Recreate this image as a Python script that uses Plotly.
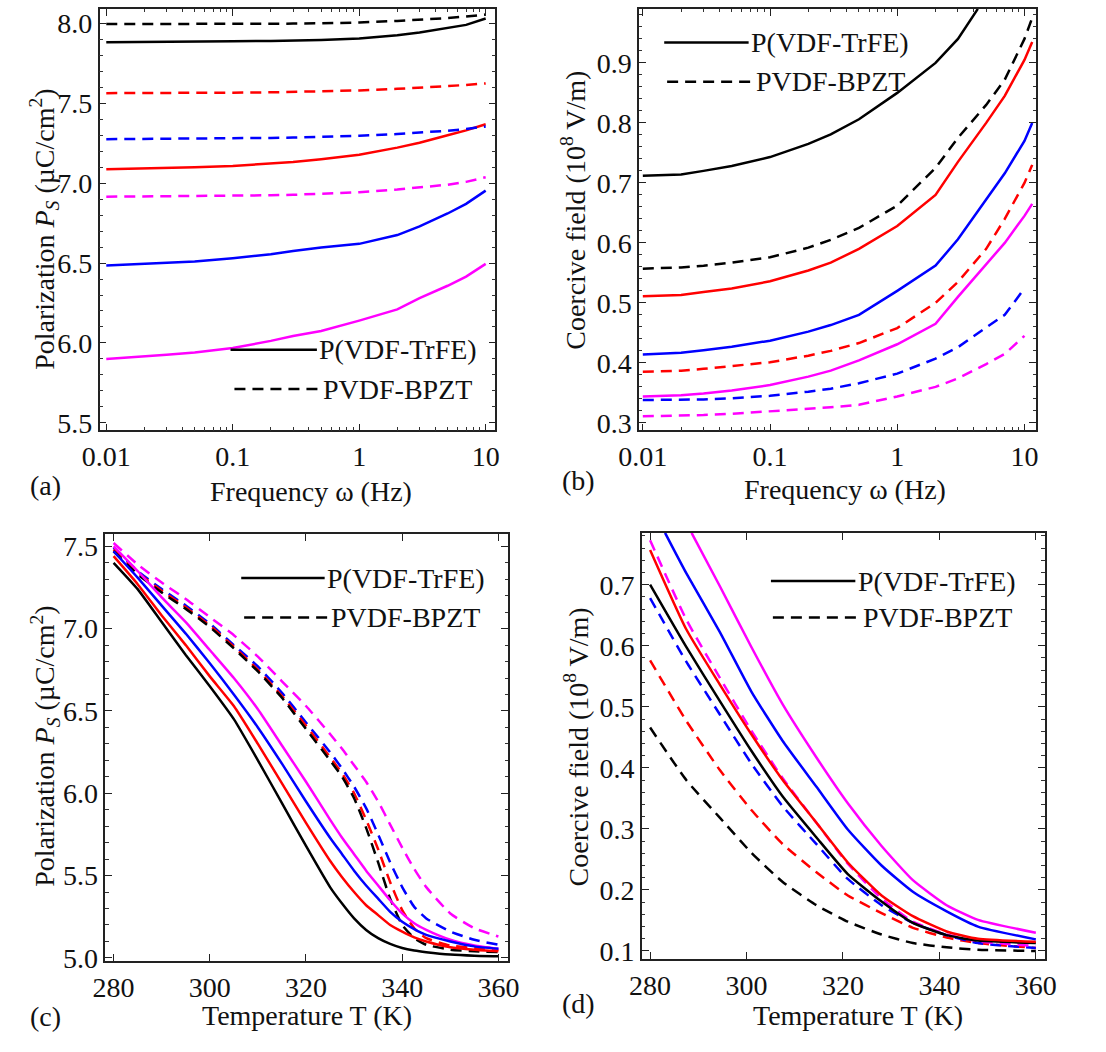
import plotly.graph_objects as go

# ---------------- data ----------------
# (a) saturation polarization vs frequency
freq_a = [0.01, 0.02, 0.03, 0.05, 0.1, 0.2, 0.3, 0.5, 1, 2, 3, 5, 7, 10]
pa_trfe_black = [7.881, 7.884, 7.886, 7.887, 7.888, 7.889, 7.891, 7.896, 7.905, 7.925, 7.943, 7.97, 7.99, 8.03]
pa_bpzt_black = [7.995, 7.995, 7.995, 7.995, 7.996, 7.997, 7.998, 8.0, 8.005, 8.015, 8.022, 8.033, 8.042, 8.055]
pa_trfe_red = [7.087, 7.091, 7.096, 7.100, 7.107, 7.121, 7.132, 7.150, 7.178, 7.222, 7.253, 7.300, 7.330, 7.368]
pa_bpzt_red = [7.563, 7.563, 7.564, 7.565, 7.566, 7.568, 7.570, 7.574, 7.58, 7.59, 7.597, 7.607, 7.614, 7.624]
pa_trfe_blue = [6.485, 6.495, 6.50, 6.51, 6.53, 6.555, 6.575, 6.597, 6.62, 6.675, 6.73, 6.81, 6.87, 6.953]
pa_bpzt_blue = [7.275, 7.276, 7.277, 7.278, 7.28, 7.283, 7.285, 7.289, 7.296, 7.307, 7.315, 7.328, 7.338, 7.355]
pa_trfe_magenta = [5.90, 5.915, 5.927, 5.941, 5.968, 6.013, 6.044, 6.075, 6.14, 6.21, 6.28, 6.358, 6.415, 6.495]
pa_bpzt_magenta = [6.915, 6.916, 6.917, 6.918, 6.92, 6.924, 6.927, 6.933, 6.943, 6.96, 6.972, 6.99, 7.008, 7.037]

# (b) coercive field vs frequency
freq_b = [0.01, 0.02, 0.03, 0.05, 0.1, 0.2, 0.3, 0.5, 1, 2, 3, 5, 7, 10, 11.5]
freq_b_short = [0.01, 0.02, 0.03, 0.05, 0.1, 0.2, 0.3, 0.5, 1, 2, 3, 5, 7, 10]
freq_b_black = [0.01, 0.02, 0.03, 0.05, 0.1, 0.2, 0.3, 0.5, 1, 2, 3, 4.3]
eb_trfe_black = [0.712, 0.714, 0.72, 0.728, 0.743, 0.765, 0.781, 0.806, 0.85, 0.9, 0.94, 0.99]
eb_bpzt_black = [0.557, 0.559, 0.562, 0.567, 0.576, 0.592, 0.605, 0.625, 0.662, 0.725, 0.775, 0.83, 0.872, 0.94, 0.975]
eb_trfe_red = [0.511, 0.513, 0.518, 0.524, 0.536, 0.554, 0.567, 0.59, 0.628, 0.68, 0.735, 0.80, 0.845, 0.905, 0.935]
eb_bpzt_red = [0.385, 0.387, 0.39, 0.395, 0.401, 0.412, 0.42, 0.433, 0.458, 0.50, 0.535, 0.59, 0.64, 0.70, 0.73]
eb_trfe_blue = [0.414, 0.417, 0.421, 0.427, 0.437, 0.452, 0.463, 0.48, 0.52, 0.562, 0.606, 0.672, 0.716, 0.77, 0.80]
eb_bpzt_blue = [0.338, 0.338, 0.339, 0.341, 0.345, 0.352, 0.357, 0.366, 0.382, 0.407, 0.426, 0.459, 0.48, 0.524]
eb_trfe_magenta = [0.344, 0.346, 0.349, 0.354, 0.363, 0.377, 0.387, 0.404, 0.431, 0.465, 0.51, 0.565, 0.60, 0.645, 0.665]
eb_bpzt_magenta = [0.311, 0.312, 0.313, 0.315, 0.319, 0.323, 0.326, 0.33, 0.344, 0.36, 0.374, 0.398, 0.415, 0.445]

# (c) saturation polarization vs temperature
temp_c = [280, 285, 290, 295, 300, 305, 310, 315, 320, 325, 327.5, 330, 332.5, 335,
          337.5, 340, 342.5, 345, 350, 355, 360]
pc_trfe_black = [7.40, 7.24, 7.04, 6.84, 6.65, 6.45, 6.20, 5.94, 5.68, 5.43, 5.33, 5.24, 5.17, 5.12,
                 5.085, 5.06, 5.045, 5.035, 5.02, 5.013, 5.01]
pc_trfe_red = [7.44, 7.27, 7.08, 6.90, 6.71, 6.53, 6.30, 6.06, 5.82, 5.59, 5.49, 5.40, 5.32, 5.26,
               5.20, 5.16, 5.125, 5.10, 5.065, 5.05, 5.04]
pc_trfe_blue = [7.47, 7.31, 7.14, 6.97, 6.79, 6.60, 6.40, 6.18, 5.95, 5.73, 5.63, 5.53, 5.44, 5.36,
                5.28, 5.22, 5.175, 5.14, 5.10, 5.07, 5.055]
pc_trfe_magenta = [7.50, 7.35, 7.19, 7.04, 6.87, 6.70, 6.51, 6.29, 6.07, 5.84, 5.73, 5.63, 5.53, 5.44,
                   5.35, 5.27, 5.21, 5.17, 5.11, 5.075, 5.055]
pc_bpzt_black = [7.47, 7.33, 7.22, 7.12, 7.01, 6.88, 6.74, 6.58, 6.39, 6.20, 6.10, 5.97, 5.79, 5.58,
                 5.36, 5.20, 5.12, 5.08, 5.05, 5.04, 5.035]
pc_bpzt_red = [7.48, 7.34, 7.23, 7.13, 7.02, 6.89, 6.75, 6.59, 6.41, 6.22, 6.12, 6.00, 5.84, 5.66,
               5.46, 5.29, 5.18, 5.12, 5.075, 5.06, 5.05]
pc_bpzt_blue = [7.49, 7.35, 7.24, 7.14, 7.03, 6.90, 6.77, 6.61, 6.43, 6.25, 6.15, 6.04, 5.91, 5.75,
                5.58, 5.43, 5.31, 5.24, 5.16, 5.11, 5.08]
pc_bpzt_magenta = [7.52, 7.39, 7.28, 7.18, 7.07, 6.96, 6.83, 6.68, 6.53, 6.36, 6.27, 6.17, 6.07, 5.95,
                   5.81, 5.67, 5.54, 5.43, 5.27, 5.18, 5.13]

# (d) coercive field vs temperature
temp_d = [280, 287.5, 294.5, 301, 307.5, 314.5, 321, 328, 334.5, 341.5, 348, 360]
temp_d_blue = [283.1, 287.5, 294.5, 301, 307.5, 314.5, 321, 328, 334.5, 341.5, 348, 360]
temp_d_magenta = [288.6, 294.5, 301, 307.5, 314.5, 321, 328, 334.5, 341.5, 348, 360]
ed_trfe_black = [0.70, 0.598, 0.509, 0.428, 0.353, 0.286, 0.226, 0.181, 0.146, 0.126, 0.117, 0.113]
ed_trfe_red = [0.757, 0.627, 0.536, 0.455, 0.380, 0.310, 0.245, 0.191, 0.157, 0.132, 0.120, 0.115]
ed_trfe_blue = [0.785, 0.719, 0.622, 0.525, 0.444, 0.369, 0.299, 0.24, 0.197, 0.165, 0.14, 0.119]
ed_trfe_magenta = [0.785, 0.697, 0.598, 0.504, 0.417, 0.342, 0.272, 0.216, 0.175, 0.151, 0.130]
ed_bpzt_black = [0.466, 0.38, 0.318, 0.261, 0.213, 0.175, 0.148, 0.127, 0.113, 0.106, 0.102, 0.10]
ed_bpzt_red = [0.576, 0.477, 0.396, 0.331, 0.275, 0.229, 0.191, 0.162, 0.138, 0.122, 0.113, 0.105]
ed_bpzt_blue = [0.678, 0.574, 0.487, 0.407, 0.337, 0.275, 0.218, 0.175, 0.146, 0.126, 0.113, 0.105]
ed_bpzt_magenta = [0.773, 0.643, 0.547, 0.461, 0.383, 0.31, 0.243, 0.186, 0.148, 0.127, 0.116, 0.108]

legend_names = ["P(VDF-TrFE)", "PVDF-BPZT"]
freq_ticks = [0.01, 0.1, 1, 10]
freq_ticktext = ["0.01", "0.1", "1", "10"]

# ---------------- styling ----------------
W, H = 1106, 1052
FONT = "Liberation Serif"
BLACK, RED, BLUE, MAGENTA = "#000000", "#ff0000", "#0000ff", "#ff00ff"
LW = 2.5
DASH = "11px,7px"


def px(x):
    return x / W


def py(y):
    return 1 - y / H


fig = go.Figure()


def add(xs, ys, color, dashed, xa, ya, smooth=False):
    line = dict(color=color, width=LW, dash=DASH if dashed else "solid")
    if smooth:
        line.update(shape="spline", smoothing=0.5)
    fig.add_trace(go.Scatter(
        x=xs, y=ys, mode="lines", xaxis=xa, yaxis=ya, showlegend=False,
        line=line, hoverinfo="skip"))


# panel (a)
add(freq_a, pa_bpzt_black, BLACK, True, "x", "y")
add(freq_a, pa_trfe_black, BLACK, False, "x", "y")
add(freq_a, pa_bpzt_red, RED, True, "x", "y")
add(freq_a, pa_trfe_red, RED, False, "x", "y")
add(freq_a, pa_bpzt_blue, BLUE, True, "x", "y")
add(freq_a, pa_trfe_blue, BLUE, False, "x", "y")
add(freq_a, pa_bpzt_magenta, MAGENTA, True, "x", "y")
add(freq_a, pa_trfe_magenta, MAGENTA, False, "x", "y")

# panel (b)
add(freq_b_black, eb_trfe_black, BLACK, False, "x2", "y2")
add(freq_b, eb_bpzt_black, BLACK, True, "x2", "y2")
add(freq_b, eb_trfe_red, RED, False, "x2", "y2")
add(freq_b, eb_bpzt_red, RED, True, "x2", "y2")
add(freq_b, eb_trfe_blue, BLUE, False, "x2", "y2")
add(freq_b_short, eb_bpzt_blue, BLUE, True, "x2", "y2")
add(freq_b, eb_trfe_magenta, MAGENTA, False, "x2", "y2")
add(freq_b_short, eb_bpzt_magenta, MAGENTA, True, "x2", "y2")

# panel (c)
add(temp_c, pc_bpzt_magenta, MAGENTA, True, "x3", "y3", True)
add(temp_c, pc_bpzt_blue, BLUE, True, "x3", "y3", True)
add(temp_c, pc_bpzt_red, RED, True, "x3", "y3", True)
add(temp_c, pc_bpzt_black, BLACK, True, "x3", "y3", True)
add(temp_c, pc_trfe_magenta, MAGENTA, False, "x3", "y3", True)
add(temp_c, pc_trfe_blue, BLUE, False, "x3", "y3", True)
add(temp_c, pc_trfe_red, RED, False, "x3", "y3", True)
add(temp_c, pc_trfe_black, BLACK, False, "x3", "y3", True)

# panel (d)
add(temp_d, ed_bpzt_black, BLACK, True, "x4", "y4", True)
add(temp_d, ed_bpzt_red, RED, True, "x4", "y4", True)
add(temp_d, ed_bpzt_blue, BLUE, True, "x4", "y4", True)
add(temp_d, ed_bpzt_magenta, MAGENTA, True, "x4", "y4", True)
add(temp_d, ed_trfe_black, BLACK, False, "x4", "y4", True)
add(temp_d, ed_trfe_red, RED, False, "x4", "y4", True)
add(temp_d_blue, ed_trfe_blue, BLUE, False, "x4", "y4", True)
add(temp_d_magenta, ed_trfe_magenta, MAGENTA, False, "x4", "y4", True)

tickfont = dict(family=FONT, size=28, color="#111")


def axis(domain, rng, **kw):
    d = dict(domain=domain, range=rng, showline=True, linecolor="#222", linewidth=1.5,
             mirror="allticks", ticks="inside", ticklen=7, tickwidth=1.2, tickcolor="#222",
             showgrid=False, zeroline=False, tickfont=tickfont)
    d.update(kw)
    return d


def minor_lin(dt):
    return dict(ticks="inside", ticklen=3.5, tickwidth=1, tickcolor="#333", dtick=dt, showgrid=False)


minor_log = dict(ticks="inside", ticklen=3.5, tickwidth=1, tickcolor="#333", dtick="D1", showgrid=False)

fig.update_layout(
    width=W, height=H, margin=dict(l=0, r=0, t=0, b=0),
    paper_bgcolor="white", plot_bgcolor="white", showlegend=False,
    xaxis=axis([px(81), px(489)], [-2.053, 1.077], type="log", anchor="y",
               tickvals=freq_ticks, ticktext=freq_ticktext, minor=minor_log),
    yaxis=axis([py(434), py(6)], [5.453, 8.09], anchor="x", tick0=5.5, dtick=0.5,
               tickformat=".1f", minor=minor_lin(0.1)),
    xaxis2=axis([px(637), px(1046)], [-2.03, 1.089], type="log", anchor="y2",
                tickvals=freq_ticks, ticktext=freq_ticktext, minor=minor_log),
    yaxis2=axis([py(434), py(6)], [0.2874, 0.99], anchor="x2", tick0=0.3, dtick=0.1,
                tickformat=".1f", minor=minor_lin(0.02)),
    xaxis3=axis([px(87), px(502)], [278.3, 362], anchor="y3", tick0=280, dtick=20),
    yaxis3=axis([py(973), py(539)], [4.98, 7.576], anchor="x3", tick0=5.0, dtick=0.5,
                tickformat=".1f", minor=minor_lin(0.1)),
    xaxis4=axis([px(640), px(1055)], [278.3, 361.8], anchor="y4", tick0=280, dtick=20),
    yaxis4=axis([py(971), py(538)], [0.0865, 0.785], anchor="x4", tick0=0.1, dtick=0.1,
                tickformat=".1f", minor=minor_lin(0.02)),
)

annotations = []
shapes = []


def text(x, y, s, size=28, angle=0, xanchor="center"):
    annotations.append(dict(x=px(x), y=py(y), xref="paper", yref="paper", text=s,
                            showarrow=False, textangle=angle, xanchor=xanchor, yanchor="middle",
                            borderpad=0, font=dict(family=FONT, size=size, color="#111")))


# axis titles
ps_title = "Polarization <i>P</i><sub><i>S</i></sub> (µC/cm<sup>2</sup>)"
ec_title = "Coercive field (10<sup>8</sup> V/m)"
text(24, 230, ps_title, angle=-90)
text(570, 210, ec_title, angle=-90)
text(25, 755, ps_title, angle=-90)
text(573, 755, ec_title, angle=-90)
text(299, 496, "Frequency ω (Hz)")
text(849, 494, "Frequency ω (Hz)")
text(295, 1028, "Temperature T (K)")
text(863, 1028, "Temperature T (K)")

# panel letters
text(25, 490, "(a)")
text(575, 485, "(b)")
text(25, 1029, "(c)")
text(575, 1016, "(d)")

# in-plot legends: (line x0, x1, y) for solid then dashed, text x start
legend_layout = [
    ((216, 305, 352), (220, 308, 392), 306, 310),
    ((663, 750, 40), (666, 756, 80), 751, 757),
    ((227, 313, 584), (230, 317, 624), 314, 319),
    ((773, 860, 587), (775, 866, 624), 862, 867),
]
for solid, dashed, tx1, tx2 in legend_layout:
    for (x0, x1, yy), dash, name, tx in ((solid, "solid", legend_names[0], tx1),
                                        (dashed, DASH, legend_names[1], tx2)):
        shapes.append(dict(type="line", xref="paper", yref="paper",
                           x0=px(x0), x1=px(x1), y0=py(yy), y1=py(yy),
                           line=dict(color=BLACK, width=LW, dash=dash)))
        text(tx, yy, name, xanchor="left")

fig.update_layout(annotations=annotations, shapes=shapes)
fig.write_html("out.html")
